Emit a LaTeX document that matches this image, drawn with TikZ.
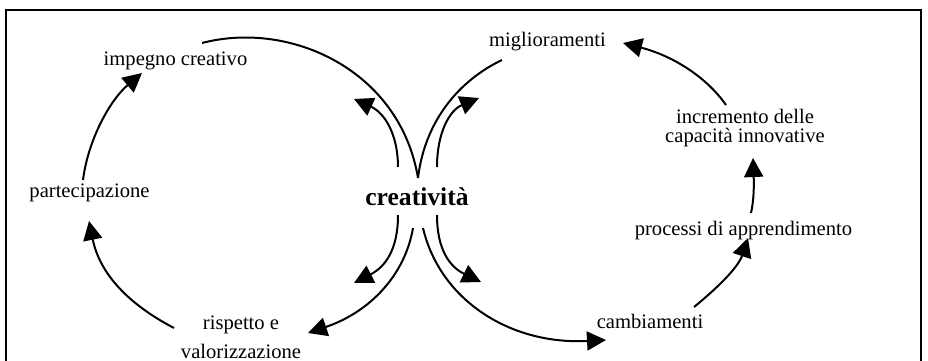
\documentclass[tikz,border=0pt]{standalone}
\usepackage{fontspec}
\setmainfont{Liberation Serif}
\usetikzlibrary{arrows.meta}
\begin{document}
\begin{tikzpicture}[x=0.5pt,y=-0.5pt,
  lbl/.style={anchor=base, inner sep=0pt, font=\fontsize{10.3pt}{12pt}\selectfont},
  conn/.style={line width=1pt},
  arr/.style={conn, -{Triangle[length=9.5pt,width=9.5pt]}},
  frame/.style={line width=1pt}]
\useasboundingbox (0,0) rectangle (928,360);
\draw[frame] (6,10) rectangle (921,380);
% labels
\node[lbl] (impegno) at (175.5,65) {impegno creativo};
\node[lbl] (miglior) at (547.5,46) {miglioramenti};
\node[lbl, align=center, font=\fontsize{10.3pt}{9.25pt}\selectfont] (increm) at (745,142) {incremento delle\\capacità innovative};
\node[lbl] (partec) at (89.5,197) {partecipazione};
\node[lbl, font=\fontsize{12.8pt}{15pt}\selectfont\bfseries] (creat) at (417,205) {creatività};
\node[lbl] (process) at (743.5,235) {processi di apprendimento};
\node[lbl, align=center, font=\fontsize{10.3pt}{14.25pt}\selectfont] (rispetto) at (241,358) {rispetto e\\valorizzazione};
\node[lbl] (cambi) at (650,328) {cambiamenti};
% end points
\coordinate (cTop) at (418,178);
\coordinate (cBotL) at (413,228);
\coordinate (cBotR) at (423,228);
\coordinate (iUL) at (398,167);
\coordinate (iUR) at (437,167);
\coordinate (iLL) at (398,215);
\coordinate (iLR) at (437,215);
\coordinate (impR) at (202,43);
\coordinate (migL) at (502,60);
\coordinate (tUL) at (354,99);
\coordinate (tUR) at (479,98);
\coordinate (tLL) at (354,283);
\coordinate (tLR) at (481,282);
\coordinate (rispR) at (308,333);
\coordinate (cambL) at (606,340);
\coordinate (cambR) at (694,307);
\coordinate (procT) at (748,238);
\coordinate (procB) at (751,213);
\coordinate (incB) at (753,158);
\coordinate (incT) at (726,105);
\coordinate (migR) at (623,43);
\coordinate (rispL) at (174,328);
\coordinate (partB) at (89,221);
\coordinate (partT) at (83,180);
\coordinate (impB) at (142,73);
% connectors
\draw[conn] (cTop) .. controls (400,70) and (290,20) .. (impR);
\draw[conn] (cTop) .. controls (425,120) and (460,80) .. (migL);
\draw[arr] (iUL) .. controls (398,135) and (385,113) .. (tUL);
\draw[arr] (iUR) .. controls (437,132) and (450,110) .. (tUR);
\draw[arr] (iLL) .. controls (398,250) and (385,267) .. (tLL);
\draw[arr] (iLR) .. controls (437,250) and (450,267) .. (tLR);
\draw[arr] (cBotL) .. controls (405,275) and (370,312) .. (rispR);
\draw[arr] (cBotR) .. controls (440,300) and (510,345) .. (cambL);
\draw[arr] (cambR) .. controls (715,290) and (738,268) .. (procT);
\draw[arr] (procB) .. controls (754,200) and (754,185) .. (incB);
\draw[arr] (incT) .. controls (705,75) and (670,55) .. (migR);
\draw[arr] (rispL) .. controls (130,305) and (100,275) .. (partB);
\draw[arr] (partT) .. controls (88,140) and (110,100) .. (impB);
\end{tikzpicture}
\end{document}
